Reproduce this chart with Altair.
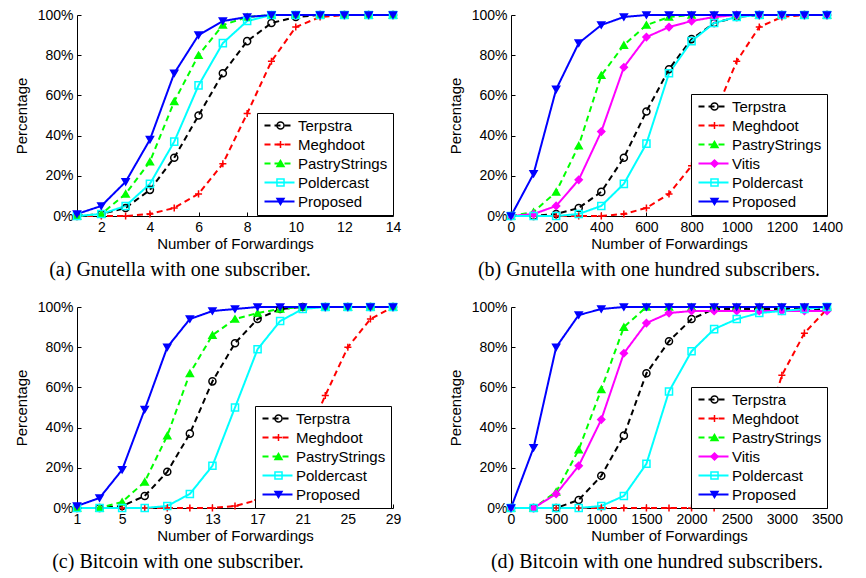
import altair as alt
import pandas as pd

# ---------------- data ----------------
a_x = [1, 2, 3, 4, 5, 6, 7, 8, 9, 10, 11, 12, 13, 14]
a_terpstra = [0, 1, 4, 13, 29, 50, 71, 87, 96, 99, 100, 100, 100, 100]
a_meghdoot = [0, 0, 0, 1, 4, 11, 26, 51, 77, 94, 99, 100, 100, 100]
a_pastry = [0, 1, 11, 27, 57, 80, 95, 99, 100, 100, 100, 100, 100, 100]
a_polder = [0, 1, 5, 16, 37, 65, 86, 97, 100, 100, 100, 100, 100, 100]
a_proposed = [1, 5, 17, 38, 71, 90, 97, 99, 100, 100, 100, 100, 100, 100]

b_x = [0, 100, 200, 300, 400, 500, 600, 700, 800, 900, 1000, 1100, 1200, 1300, 1400]
b_terpstra = [0, 0, 1, 4, 12, 29, 52, 73, 88, 96, 99, 100, 100, 100, 100]
b_meghdoot = [0, 0, 0, 0, 0, 1, 4, 11, 25, 50, 77, 94, 99, 100, 100]
b_pastry = [0, 2, 12, 35, 70, 85, 95, 99, 100, 100, 100, 100, 100, 100, 100]
b_vitis = [0, 1, 5, 18, 42, 74, 89, 94, 97, 99, 100, 100, 100, 100, 100]
b_polder = [0, 0, 0, 1, 5, 16, 36, 71, 87, 96, 99, 100, 100, 100, 100]
b_proposed = [0, 21, 63, 86, 95, 99, 100, 100, 100, 100, 100, 100, 100, 100, 100]

c_x = [1, 3, 5, 7, 9, 11, 13, 15, 17, 19, 21, 23, 25, 27, 29]
c_terpstra = [0, 0, 1, 6, 18, 37, 63, 82, 94, 99, 100, 100, 100, 100, 100]
c_meghdoot = [0, 0, 0, 0, 0, 0, 0, 1, 4, 12, 30, 56, 80, 94, 100]
c_pastry = [0, 0, 3, 13, 36, 67, 86, 94, 97, 99, 100, 100, 100, 100, 100]
c_polder = [0, 0, 0, 0, 1, 7, 21, 50, 79, 93, 99, 100, 100, 100, 100]
c_proposed = [1, 5, 19, 49, 80, 94, 98, 99, 100, 100, 100, 100, 100, 100, 100]

d_x = [0, 250, 500, 750, 1000, 1250, 1500, 1750, 2000, 2250, 2500, 2750, 3000, 3250, 3500]
d_terpstra = [0, 0, 0, 4, 16, 36, 67, 83, 94, 99, 99, 99, 99, 99, 99]
d_meghdoot = [0, 0, 0, 0, 0, 0, 0, 0, 0, 0, 6, 28, 66, 87, 99]
d_pastry = [0, 0, 8, 29, 59, 90, 100, 100, 100, 100, 100, 100, 100, 100, 100]
d_vitis = [0, 0, 7, 21, 44, 77, 92, 97, 98, 98, 98, 98, 98, 98, 98]
d_polder = [0, 0, 0, 0, 1, 6, 22, 58, 78, 89, 94, 97, 98, 99, 100]
d_proposed = [0, 30, 80, 96, 99, 100, 100, 100, 100, 100, 100, 100, 100, 100, 100]

a_ticks = [2, 4, 6, 8, 10, 12, 14]
b_ticks = [0, 200, 400, 600, 800, 1000, 1200, 1400]
c_ticks = [1, 5, 9, 13, 17, 21, 25, 29]
d_ticks = [0, 500, 1000, 1500, 2000, 2500, 3000, 3500]
y_ticks = [0, 20, 40, 60, 80, 100]

captions = [
    "(a) Gnutella with one subscriber.",
    "(b) Gnutella with one hundred subscribers.",
    "(c) Bitcoin with one subscriber.",
    "(d) Bitcoin with one hundred subscribers.",
]

# ---------------- styles ----------------
PLUS = "M-1,0L1,0M0,-1L0,1"
LINE_SYM = "M-3,0L3,0"
STYLE = {
    "Terpstra": ("#000000", [6, 4], "circle", "transparent"),
    "Meghdoot": ("#ff0000", [6, 4], PLUS, "transparent"),
    "PastryStrings": ("#00ff00", [6, 4], "triangle-up", "#00ff00"),
    "Vitis": ("#ff00ff", [1, 0], "diamond", "#ff00ff"),
    "Poldercast": ("#00ffff", [1, 0], "square", "transparent"),
    "Proposed": ("#0000ff", [1, 0], "triangle-down", "#0000ff"),
}

FONT = "Liberation Sans"


def panel(xs, series, xticks, xdomain, caption, lx, ly, dx):
    rows = []
    for k, (name, vals) in enumerate(series):
        for x, y in zip(xs, vals):
            rows.append({"x": x, "y": y, "series": name, "s": name, "ord": k})
    df = pd.DataFrame(rows)
    names = [n for n, _ in series]
    colors = [STYLE[n][0] for n in names]
    dashes = [STYLE[n][1] for n in names]
    shapes = [STYLE[n][2] for n in names]
    fills = [STYLE[n][3] for n in names]
    srt = alt.EncodingSortField(field="ord", op="min")

    xenc = alt.X(
        "x:Q",
        scale=alt.Scale(domain=xdomain, nice=False, zero=False),
        axis=alt.Axis(values=xticks, title="Number of Forwardings", format="d",
                      labelOverlap=False, labelFlush=False),
    )
    yenc = alt.Y(
        "y:Q",
        scale=alt.Scale(domain=[0, 100], nice=False),
        axis=alt.Axis(values=y_ticks, labelExpr="datum.value + '%'", title="Percentage",
                      labelOverlap=False, labelFlush=False),
    )

    common = dict(orient="none", legendX=lx, legendY=ly, title=None, labelFont=FONT,
                  labelFontSize=15, padding=5, rowPadding=3)
    line_leg = alt.Legend(
        symbolType=LINE_SYM, symbolSize=100, symbolStrokeWidth=2, symbolOffset=10,
        symbolFillColor="transparent", labelOffset=11,
        fillColor="white", strokeColor="black", zindex=1, labelColor="black", **common,
    )
    pt_leg = alt.Legend(
        symbolSize=50, symbolStrokeWidth=1.5, symbolOffset=11, zindex=2,
        labelExpr="' '", labelOffset=11, **common,
    )

    lines = alt.Chart(df).mark_line(strokeWidth=2).encode(
        x=xenc,
        y=yenc,
        color=alt.Color("s:N", sort=srt, scale=alt.Scale(range=colors), legend=line_leg),
        strokeDash=alt.StrokeDash("s:N", sort=srt, scale=alt.Scale(range=dashes), legend=line_leg),
    )
    points = alt.Chart(df).mark_point(size=50, strokeWidth=1.5, opacity=1).encode(
        x=xenc,
        y=yenc,
        stroke=alt.Stroke("series:N", sort=srt, scale=alt.Scale(range=colors), legend=pt_leg),
        fill=alt.Fill("series:N", sort=srt, scale=alt.Scale(range=fills), legend=pt_leg),
        shape=alt.Shape("series:N", sort=srt, scale=alt.Scale(range=shapes), legend=pt_leg),
    )
    return alt.layer(lines, points).properties(
        width=316,
        height=201,
        title=alt.TitleParams(
            caption, orient="bottom", anchor="middle", font="Liberation Serif",
            fontSize=20, fontWeight="normal", color="black", offset=9, dx=dx,
        ),
    )


pa = panel(a_x, [("Terpstra", a_terpstra), ("Meghdoot", a_meghdoot), ("PastryStrings", a_pastry),
                 ("Poldercast", a_polder), ("Proposed", a_proposed)],
           a_ticks, [1, 14], captions[0], 180, 98, -55)
pb = panel(b_x, [("Terpstra", b_terpstra), ("Meghdoot", b_meghdoot), ("PastryStrings", b_pastry),
                 ("Vitis", b_vitis), ("Poldercast", b_polder), ("Proposed", b_proposed)],
           b_ticks, [0, 1400], captions[1], 180, 79, -20)
pc = panel(c_x, [("Terpstra", c_terpstra), ("Meghdoot", c_meghdoot), ("PastryStrings", c_pastry),
                 ("Poldercast", c_polder), ("Proposed", c_proposed)],
           c_ticks, [1, 29], captions[2], 178, 99, -57)
pd_ = panel(d_x, [("Terpstra", d_terpstra), ("Meghdoot", d_meghdoot), ("PastryStrings", d_pastry),
                  ("Vitis", d_vitis), ("Poldercast", d_polder), ("Proposed", d_proposed)],
            d_ticks, [0, 3500], captions[3], 180, 80, -12)

indep = dict(color="independent", strokeDash="independent", stroke="independent",
             fill="independent", shape="independent", x="independent", y="independent")

chart = (
    alt.concat(pa, pb, pc, pd_, columns=2, spacing={"row": 20, "column": 47})
    .resolve_scale(**indep)
    .resolve_legend(color="independent", strokeDash="independent", stroke="independent",
                    fill="independent", shape="independent")
    .properties(padding={"left": 6, "top": 0, "right": 0, "bottom": 0})
    .configure_view(stroke=None)
    .configure_axis(
        grid=False, domainColor="black", domainWidth=1, tickColor="black",
        tickSize={"expr": "-4"}, labelPadding=8,
        labelFont=FONT, labelFontSize=14, labelColor="black",
        titleFont=FONT, titleFontSize=15, titleFontWeight="normal", titleColor="black",
    )
    .configure_axisX(titlePadding=2)
    .configure_axisY(titlePadding=8)
)

chart.save("out.html", embed_options={"renderer": "svg", "actions": False})
